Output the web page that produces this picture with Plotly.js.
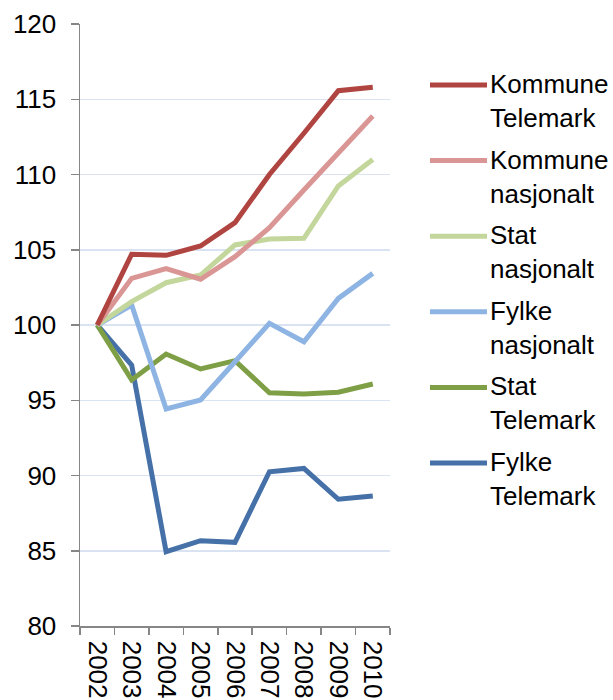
<!DOCTYPE html>
<html>
<head>
<meta charset="utf-8">
<script src="https://cdn.plot.ly/plotly-3.0.1.min.js"></script>
<style>html,body{margin:0;padding:0;background:#fff;}#chart{width:613px;height:700px;}</style>
</head>
<body>
<div id="chart"></div>
<script>
const years = ['2002','2003','2004','2005','2006','2007','2008','2009','2010'];
const seriesNames = ['Kommune<br>Telemark','Kommune<br>nasjonalt','Stat<br>nasjonalt','Fylke<br>nasjonalt','Stat<br>Telemark','Fylke<br>Telemark'];
const kommuneTelemark = [100, 104.7, 104.63, 105.25, 106.8, 110.0, 112.74, 115.57, 115.8];
const kommuneNasjonalt = [100, 103.1, 103.74, 103.04, 104.54, 106.47, 108.97, 111.41, 113.89];
const statNasjonalt = [100, 101.55, 102.81, 103.32, 105.32, 105.71, 105.76, 109.24, 111.0];
const fylkeNasjonalt = [100, 101.33, 94.42, 95.02, 97.56, 100.11, 98.89, 101.77, 103.43];
const statTelemark = [100, 96.35, 98.07, 97.08, 97.63, 95.5, 95.42, 95.53, 96.08];
const fylkeTelemark = [100, 97.34, 84.94, 85.67, 85.56, 90.25, 90.47, 88.42, 88.64];
const colors = ['#B04440', '#DA9694', '#C3D69B', '#8EB4E3', '#7E9F45', '#4571A8'];

const values = [kommuneTelemark, kommuneNasjonalt, statNasjonalt, fylkeNasjonalt, statTelemark, fylkeTelemark];
const order = [5, 4, 3, 2, 1, 0];
const traces = order.map(i => ({
  type: 'scatter', mode: 'lines', x: years, y: values[i],
  name: seriesNames[i], line: {color: colors[i], width: 5},
  showlegend: false, hoverinfo: 'skip'
}));

const FONT = '"Liberation Sans", Arial, sans-serif';
const FS = 26;
const L = 80, R = 223, T = 24, B = 74, W = 613, H = 700;
const pw = W - L - R, ph = H - T - B;
const px2x = p => (p - L) / pw;
const py2y = p => (H - B - p) / ph;

const shapes = [], annotations = [];
const legendTop = 85, legendStep = 75.6;
seriesNames.forEach((nm, i) => {
  const cy = legendTop + i * legendStep;
  shapes.push({type: 'line', xref: 'paper', yref: 'paper',
    x0: px2x(430), x1: px2x(487), y0: py2y(cy), y1: py2y(cy),
    line: {color: colors[i], width: 5}});
  annotations.push({xref: 'paper', yref: 'paper', x: px2x(487.5), y: py2y(cy - 18),
    xanchor: 'left', yanchor: 'top', align: 'left', showarrow: false,
    text: nm, font: {family: FONT, size: FS, color: '#000'}});
});

const layout = {
  width: W, height: H,
  margin: {l: L, r: R, t: T, b: B, pad: 0},
  paper_bgcolor: '#fff', plot_bgcolor: '#fff',
  font: {family: FONT, size: FS, color: '#000'},
  showlegend: false,
  xaxis: {
    type: 'category', range: [-0.5, 8.5], tickangle: 90,
    ticks: 'outside', ticklen: 7, tickwidth: 1.5, tickcolor: '#868686',
    tickson: 'boundaries', showgrid: false, zeroline: false,
    showline: true, linecolor: '#868686', linewidth: 1.5,
    ticklabelstandoff: 8,
    tickfont: {family: FONT, size: FS, color: '#000'}, fixedrange: true
  },
  yaxis: {
    range: [80, 120], dtick: 5, tick0: 80,
    ticks: 'outside', ticklen: 8, tickwidth: 1.5, tickcolor: '#868686',
    showgrid: true, gridcolor: '#DAE3F1', gridwidth: 1.5, zeroline: false,
    showline: true, linecolor: '#868686', linewidth: 1.5,
    ticklabelstandoff: 9,
    tickfont: {family: FONT, size: FS, color: '#000'}, fixedrange: true
  },
  shapes: shapes, annotations: annotations
};
Plotly.newPlot('chart', traces, layout, {displayModeBar: false, staticPlot: true});
</script>
</body>
</html>
